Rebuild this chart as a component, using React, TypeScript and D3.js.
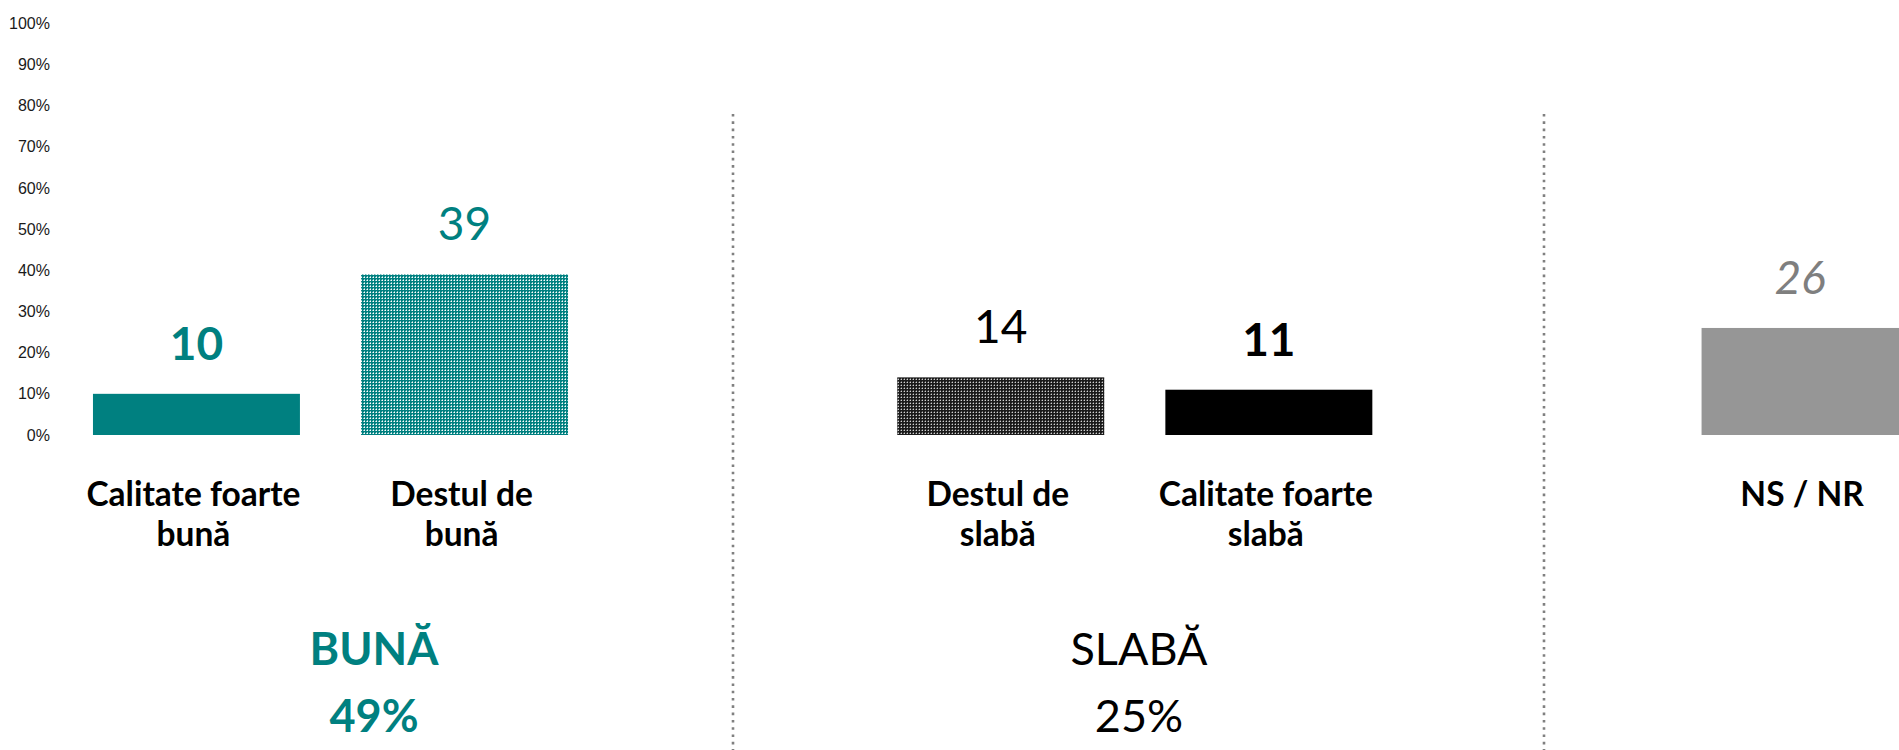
import React from "react";
import * as d3 from "d3";

const slots = ["s0", "s1", "sep1", "s3", "s4", "sep2", "s6"];
const barSlots = ["s0", "s1", "s3", "s4", "s6"];
const barValues = [10, 39, 14, 11, 26];
const barLabels = [
  ["Calitate foarte", "bună"],
  ["Destul de", "bună"],
  ["Destul de", "slabă"],
  ["Calitate foarte", "slabă"],
  ["NS / NR"],
];
const yTicks = [0, 10, 20, 30, 40, 50, 60, 70, 80, 90, 100];
const groupTitles = ["BUNĂ", "SLABĂ"];
const groupValues = ["49%", "25%"];

const TEAL = "#008080";
const W = 1899;
const H = 750;
const FONT = "Lato, 'Open Sans', sans-serif";

const barFills = ["teal", "url(#tealDots)", "url(#blackDots)", "#000000", "#969696"];
const valueStyles = [
  { fill: TEAL, weight: 700, style: "normal", dx: 0 },
  { fill: TEAL, weight: 400, style: "normal", dx: 0 },
  { fill: "#000", weight: 400, style: "normal", dx: 0 },
  { fill: "#000", weight: 700, style: "normal", dx: 0 },
  { fill: "#7f7f7f", weight: 400, style: "italic", dx: -5 },
];

export default function App() {
  const x = d3
    .scaleBand<string>()
    .domain(slots)
    .range([62.4, 1939.1])
    .paddingInner(0.228)
    .paddingOuter(0.114);
  const y = d3.scaleLinear().domain([0, 100]).range([435, 23.3]);
  const bw = x.bandwidth();

  const groupCenters = [374, 1139];
  const groupColors = [TEAL, "#000"];
  const groupWeights = [700, 400];
  const separators = [733, 1544];

  return (
    <svg
      width={W}
      height={H}
      style={{ position: "absolute", left: 0, top: 0, background: "#fff" }}
    >
      <defs>
        <pattern id="tealDots" width="3" height="3" patternUnits="userSpaceOnUse">
          <rect width="3" height="3" fill={TEAL} />
          <rect x="1" y="1" width="1" height="1" fill="#ffffff" />
          <rect x="1" y="0" width="1" height="1" fill="#8cc8c8" />
          <rect x="0" y="1" width="1" height="1" fill="#8cc8c8" />
        </pattern>
        <pattern id="blackDots" width="3" height="3" patternUnits="userSpaceOnUse">
          <rect width="3" height="3" fill="#1a1a1a" />
          <rect x="1" y="1" width="1" height="1" fill="#d0d0d0" />
          <rect x="1" y="0" width="1" height="1" fill="#606060" />
          <rect x="0" y="1" width="1" height="1" fill="#606060" />
        </pattern>
      </defs>

      {yTicks.map((t) => (
        <text
          key={t}
          x={50}
          y={y(t)}
          dy="0.35em"
          textAnchor="end"
          fontFamily="'Liberation Sans', Arial, sans-serif"
          fontSize={16}
          fill="#1a1a1a"
        >
          {t}%
        </text>
      ))}

      {separators.map((sx, i) => (
        <line
          key={i}
          x1={sx}
          x2={sx}
          y1={114}
          y2={H}
          stroke="#808080"
          strokeWidth={2.6}
          strokeDasharray="2.6 4.7"
        />
      ))}

      {barSlots.map((s, i) => {
        const bx = x(s) as number;
        const v = barValues[i];
        const st = valueStyles[i];
        const fill = barFills[i] === "teal" ? TEAL : barFills[i];
        return (
          <g key={s}>
            <rect x={bx} y={y(v)} width={bw} height={y(0) - y(v)} fill={fill} />
            <text
              x={bx + bw / 2 + st.dx}
              y={y(v) - 34}
              textAnchor="middle"
              fontFamily={FONT}
              fontSize={46}
              fontWeight={st.weight}
              fontStyle={st.style}
              fill={st.fill}
            >
              {v}
            </text>
            {barLabels[i].map((ln, j) => (
              <text
                key={j}
                x={bx + bw / 2 - 3}
                y={505.5 + j * 40}
                textAnchor="middle"
                fontFamily={FONT}
                fontSize={33.5}
                fontWeight={700}
                fill="#000"
              >
                {ln}
              </text>
            ))}
          </g>
        );
      })}

      {groupTitles.map((g, i) => (
        <g key={g}>
          <text
            x={groupCenters[i]}
            y={665}
            textAnchor="middle"
            fontFamily={FONT}
            fontSize={45}
            fontWeight={groupWeights[i]}
            fill={groupColors[i]}
          >
            {g}
          </text>
          <text
            x={groupCenters[i]}
            y={731.5}
            textAnchor="middle"
            fontFamily={FONT}
            fontSize={45}
            fontWeight={groupWeights[i]}
            fill={groupColors[i]}
          >
            {groupValues[i]}
          </text>
        </g>
      ))}
    </svg>
  );
}
